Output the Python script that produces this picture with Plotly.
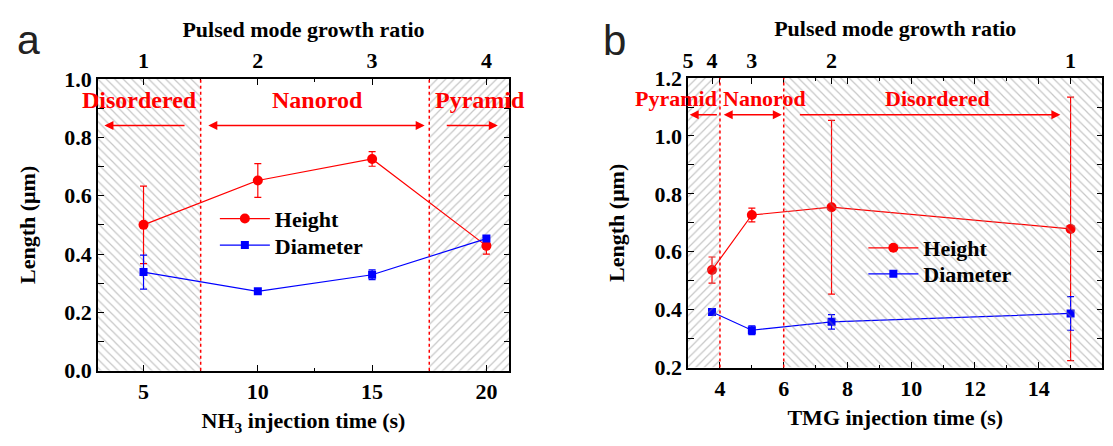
import plotly.graph_objects as go

# ---------------- data ----------------
# panel a
nh3_time = [5, 10, 15, 20]
ratio_a_labels = ["1", "2", "3", "4"]
height_a = [0.500, 0.652, 0.726, 0.428]
height_a_err = [0.133, 0.058, 0.025, 0.028]
diam_a = [0.338, 0.272, 0.329, 0.453]
diam_a_err = [0.058, 0.008, 0.017, 0.010]
dividers_a = [7.5, 17.5]
hatch_a = [(3, 7.5), (17.5, 21)]
phase_a = ["Disordered", "Nanorod", "Pyramid"]

# panel b
tmg_time = [3.75, 5, 7.5, 15]
height_b = [0.537, 0.727, 0.754, 0.679]
height_b_err = [0.045, 0.024, 0.300, 0.455]
diam_b = [0.392, 0.329, 0.358, 0.387]
diam_b_err = [0.010, 0.015, 0.025, 0.058]
ratio_b_pos = [3, 3.75, 5, 7.5, 15]
ratio_b_labels = ["5", "4", "3", "2", "1"]
dividers_b = [4, 6]
hatch_b = [(3, 4), (6, 16)]
phase_b = ["Pyramid", "Nanorod", "Disordered"]

xrange_a = [3, 21]
yrange_a = [0, 1.0]
xrange_b = [3, 16]
yrange_b = [0.2, 1.2]

# ---------------- style ----------------
RED = "#ff0000"
BLUE = "#0000ff"
SERIF = "Liberation Serif"
W, H = 1113, 446

fig = go.Figure()


def hatch_trace(x0, x1, yr, shape, xa, ya):
    return go.Scatter(
        x=[x0, x1, x1, x0, x0], y=[yr[0], yr[0], yr[1], yr[1], yr[0]],
        xaxis=xa, yaxis=ya, mode="none", fill="toself",
        fillcolor="rgba(0,0,0,0)",
        fillpattern=dict(shape=shape, fgcolor="#8e8e8e", bgcolor="rgba(0,0,0,0)",
                         size=6, solidity=0.2),
        showlegend=False, hoverinfo="skip")


def series(x, y, err, color, symbol, msize, name, xa, ya, legend):
    return go.Scatter(
        x=x, y=y, xaxis=xa, yaxis=ya, name=name, legend=legend,
        mode="lines+markers",
        line=dict(color=color, width=1.2),
        marker=dict(color=color, symbol=symbol, size=msize),
        error_y=dict(type="data", array=err, color=color, thickness=1.2, width=3.5))


# panel a: hatch under data
for (x0, x1), shp in zip(hatch_a, ["\\", "/"]):
    fig.add_trace(hatch_trace(x0, x1, yrange_a, shp, "x", "y"))
fig.add_trace(series(nh3_time, height_a, height_a_err, RED, "circle", 10, "Height", "x", "y", "legend"))
fig.add_trace(series(nh3_time, diam_a, diam_a_err, BLUE, "square", 8, "Diameter", "x", "y", "legend3"))
fig.add_trace(go.Scatter(x=nh3_time, y=[None] * len(nh3_time), xaxis="x3", yaxis="y",
                         showlegend=False, hoverinfo="skip", mode="markers"))

# panel b: hatch over data
fig.add_trace(series(tmg_time, height_b, height_b_err, RED, "circle", 10, "Height", "x2", "y2", "legend2"))
fig.add_trace(series(tmg_time, diam_b, diam_b_err, BLUE, "square", 8, "Diameter", "x2", "y2", "legend4"))
for (x0, x1), shp in zip(hatch_b, ["/", "\\"]):
    fig.add_trace(hatch_trace(x0, x1, yrange_b, shp, "x2", "y2"))
fig.add_trace(go.Scatter(x=ratio_b_pos, y=[None] * len(ratio_b_pos), xaxis="x4", yaxis="y2",
                         showlegend=False, hoverinfo="skip", mode="markers"))

tickfont = dict(family=SERIF, size=22, color="black", weight="bold")
titlefont = dict(family=SERIF, size=22, color="black", weight="bold")
legfont = dict(family=SERIF, size=22, color="black", weight="bold")

common = dict(showline=True, linecolor="black", linewidth=1.5, ticks="inside",
              ticklen=6, tickwidth=1.2, tickcolor="black", showgrid=False,
              zeroline=False, tickfont=tickfont)

dom_xa = [92.3 / W, 506 / W]
dom_ya = [1 - 380 / H, 1 - 71 / H]
dom_xb = [685.8 / W, 1102.4 / W]
dom_yb = [1 - 376.7 / H, 1 - 70 / H]


def py(val, dom, rng):
    return dom[0] + (val - rng[0]) / (rng[1] - rng[0]) * (dom[1] - dom[0])


def leg(xpx, yval, dom, rng):
    return dict(x=xpx / W, y=py(yval, dom, rng), xanchor="left", yanchor="middle",
                bgcolor="rgba(0,0,0,0)", font=legfont, itemwidth=50)


fig.update_layout(
    width=W, height=H, margin=dict(l=0, r=0, t=0, b=0),
    plot_bgcolor="white", paper_bgcolor="white",
    xaxis=dict(**common, domain=dom_xa, range=xrange_a, anchor="y", tick0=0, dtick=5,
               mirror="allticks",
               minor=dict(ticks="inside", ticklen=3, dtick=2.5, tickcolor="black"),
               title=dict(text="NH<sub>3</sub> injection time (s)", font=titlefont, standoff=10)),
    yaxis=dict(**common, domain=dom_ya, range=yrange_a, anchor="x", tick0=0, dtick=0.2,
               tickformat=".1f", mirror="allticks",
               minor=dict(ticks="inside", ticklen=3, dtick=0.1, tickcolor="black"),
               title=dict(text="Length (μm)", font=titlefont, standoff=22)),
    xaxis3=dict(**common, overlaying="x", side="top", anchor="y", range=xrange_a,
                tickmode="array", tickvals=nh3_time, ticktext=ratio_a_labels,
                title=dict(text="Pulsed mode growth ratio", font=titlefont, standoff=5)),
    xaxis2=dict(**common, domain=dom_xb, range=xrange_b, anchor="y2", tick0=0, dtick=2,
                mirror="allticks",
                minor=dict(ticks="inside", ticklen=3, dtick=1, tickcolor="black"),
                title=dict(text="TMG injection time (s)", font=titlefont, standoff=10)),
    yaxis2=dict(**common, domain=dom_yb, range=yrange_b, anchor="x2", tick0=0, dtick=0.2,
                tickformat=".1f", mirror="allticks",
                minor=dict(ticks="inside", ticklen=3, dtick=0.1, tickcolor="black"),
                title=dict(text="Length (μm)", font=titlefont, standoff=24)),
    xaxis4=dict(**common, overlaying="x2", side="top", anchor="y2", range=xrange_b,
                tickmode="array", tickvals=ratio_b_pos, ticktext=ratio_b_labels,
                title=dict(text="Pulsed mode growth ratio", font=titlefont, standoff=5)),
    legend=leg(210, 0.521, dom_ya, yrange_a),
    legend3=leg(210, 0.430, dom_ya, yrange_a),
    legend2=leg(862, 0.613, dom_yb, yrange_b),
    legend4=leg(862, 0.523, dom_yb, yrange_b),
)

# divider lines
for xv in dividers_a:
    fig.add_shape(type="line", xref="x", yref="y domain", x0=xv, x1=xv, y0=0, y1=1,
                  line=dict(color=RED, width=1.5, dash="dot"))
for xv in dividers_b:
    fig.add_shape(type="line", xref="x2", yref="y2 domain", x0=xv, x1=xv, y0=0, y1=1,
                  line=dict(color=RED, width=1.5, dash="dot"))

labfont_a = dict(family=SERIF, size=24, color=RED, weight="bold")
labfont_b = dict(family=SERIF, size=22, color=RED, weight="bold")

# phase labels (domain refs so labels outside the axis range stay visible)
for txt, xv in zip(phase_a, [4.83, 12.63, 19.7]):
    fig.add_annotation(x=(xv - xrange_a[0]) / (xrange_a[1] - xrange_a[0]), xref="x domain",
                       y=0.929, yref="y", text=txt, showarrow=False, font=labfont_a,
                       xanchor="center", yanchor="middle")
for txt, xv in zip(phase_b, [2.62, 5.39, 10.83]):
    fig.add_annotation(x=(xv - xrange_b[0]) / (xrange_b[1] - xrange_b[0]), xref="x2 domain",
                       y=1.13, yref="y2", text=txt, showarrow=False, font=labfont_b,
                       xanchor="center", yanchor="middle")


def arrow(xh, xt, yv, xr, yr, both=False):
    fig.add_annotation(x=xh, y=yv, ax=xt, ay=yv, xref=xr, yref=yr, axref=xr, ayref=yr,
                       text="", showarrow=True, arrowhead=2, arrowsize=1.2, arrowwidth=1.5,
                       arrowcolor=RED, arrowside="end+start" if both else "end",
                       startarrowhead=2, startarrowsize=1.2)


arrow(3.29, 6.86, 0.841, "x", "y")
arrow(17.3, 7.77, 0.841, "x", "y", both=True)
arrow(20.5, 18.2, 0.841, "x", "y")

arrow(3.05, 3.95, 1.073, "x2", "y2")
arrow(5.94, 4.07, 1.073, "x2", "y2", both=True)
arrow(14.68, 6.46, 1.073, "x2", "y2")

# panel letters
fig.add_annotation(x=22.5 / W, y=1 - 30 / H, xref="paper", yref="paper", text="a", showarrow=False,
                   xanchor="center", yanchor="middle",
                   font=dict(family="Liberation Sans", size=41, color="#222"))
fig.add_annotation(x=612 / W, y=1 - 30 / H, xref="paper", yref="paper", text="b", showarrow=False,
                   xanchor="center", yanchor="middle",
                   font=dict(family="Liberation Sans", size=42, color="#222"))

fig.write_html("out.html")
